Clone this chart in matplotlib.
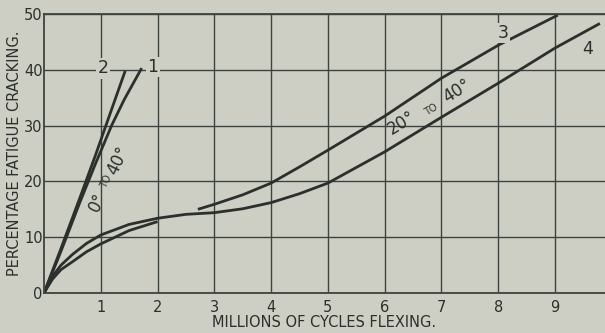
import matplotlib.pyplot as plt
import numpy as np

# curves (x: millions of cycles, y: % fatigue cracking)
x1 = [0, 0.3, 0.63, 0.9, 1.19, 1.41, 1.72]
y1 = [0, 7.5, 16.2, 23, 30, 34.6, 40.3]

x2 = [0, 0.3, 0.63, 0.9, 1.09, 1.43]
y2 = [0, 8, 17, 24.5, 30, 39.8]

x3 = [0, 0.15, 0.3, 0.5, 0.75, 1, 1.5, 2.0, np.nan,
      2.71, 3, 3.5, 4, 4.5, 5, 6, 7, 8, 9.05]
y3 = [0, 2.5, 4.2, 5.6, 7.4, 8.8, 11.2, 12.8, np.nan,
      15.0, 15.9, 17.6, 19.7, 22.6, 25.6, 31.7, 38.5, 44.4, 49.8]

x4 = [0, 0.15, 0.3, 0.5, 0.75, 1, 1.5, 2, 2.5, 3, 3.5, 4, 4.5, 5,
      6, 7, 8, 9, 9.79]
y4 = [0, 3, 5, 6.9, 8.9, 10.4, 12.3, 13.4, 14.1, 14.4, 15.1, 16.2, 17.8, 19.7,
      25.3, 31.5, 37.6, 43.9, 48.3]

x_ticks = list(range(1, 10))
y_ticks = [0, 10, 20, 30, 40, 50]

bg = '#cdcfc4'
ink = '#2b302c'
grid_c = '#3d433e'

fig = plt.figure(figsize=(6.05, 3.33), dpi=100, facecolor=bg)
ax = fig.add_axes([0.0727, 0.12, 0.9273, 0.838], facecolor=bg)

ax.set_xlim(0, 9.88)
ax.set_ylim(0, 50)
ax.set_xticks(x_ticks)
ax.set_yticks(y_ticks)
ax.grid(True, color=grid_c, linewidth=1.0)
ax.tick_params(length=0, colors=ink, labelsize=10.5)
ax.tick_params(axis='y', pad=1)
ax.tick_params(axis='x', pad=5)

for s in ['left', 'bottom', 'top']:
    ax.spines[s].set_color(grid_c)
    ax.spines[s].set_linewidth(1.3)
ax.spines['right'].set_visible(False)

for xs, ys in [(x1, y1), (x2, y2), (x3, y3), (x4, y4)]:
    ax.plot(xs, ys, color=ink, linewidth=2.0, solid_capstyle='butt')

lab = dict(color=ink, fontsize=12.5, ha='center', va='center',
           bbox=dict(facecolor=bg, edgecolor='none', pad=1))
ax.text(1.04, 40.3, '2', **lab)
ax.text(1.92, 40.5, '1', **lab)
ax.text(8.08, 46.6, '3', **lab)
ax.text(9.58, 43.7, '4', **lab)

# angle annotations
rot = dict(color=ink, ha='center', va='center', rotation_mode='anchor')
ax.text(0.95, 16.3, '0°', fontsize=12, rotation=64, **rot)
ax.text(1.1, 20.0, 'TO', fontsize=7, rotation=64, **rot)
ax.text(1.3, 23.8, '40°', fontsize=12, rotation=64, **rot)
ax.text(6.3, 30.4, '20°', fontsize=12, rotation=32, **rot)
ax.text(6.82, 32.9, 'TO', fontsize=7, rotation=32, **rot)
ax.text(7.28, 36.2, '40°', fontsize=12, rotation=32, **rot)

ax.set_xlabel('MILLIONS OF CYCLES FLEXING.', fontsize=10.5, color=ink, labelpad=0)
ax.set_ylabel('PERCENTAGE FATIGUE CRACKING.', fontsize=10.5, color=ink, labelpad=1)

fig.savefig('out.png', dpi=100, facecolor=bg)
